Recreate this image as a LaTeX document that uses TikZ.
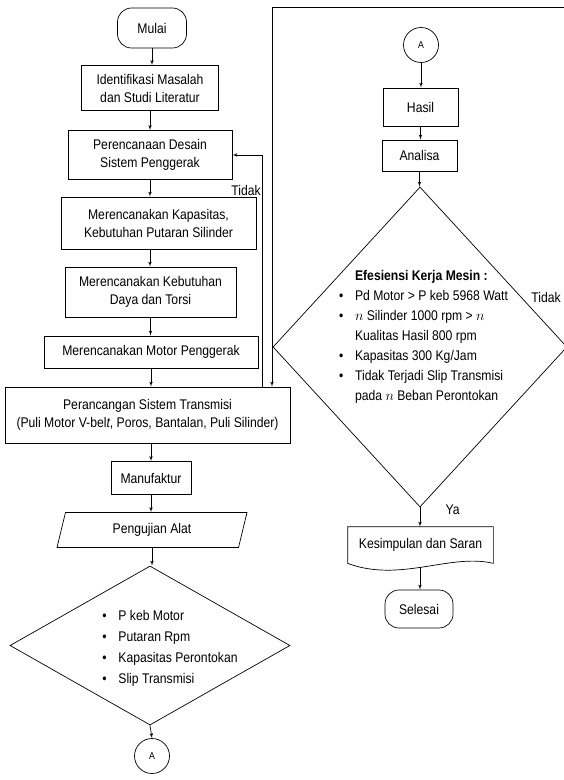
\documentclass[tikz,border=0pt]{standalone}
\usepackage{fontspec}
\setmainfont{Liberation Sans}[FakeStretch=0.87]
\usetikzlibrary{arrows}
\usetikzlibrary{shapes.geometric}
\newcommand{\bul}{\makebox[16pt][l]{\textbullet}}
\newcommand{\ind}{\hspace*{16pt}}

\begin{document}
\begin{tikzpicture}[x=1pt, y=-1pt, >=latex', line width=.7pt,
  font=\fontsize{14}{18}\selectfont,
  box/.style={draw, rectangle, align=center, inner sep=2pt},
  term/.style={draw, rectangle, rounded corners=14pt, align=center},
  conn/.style={draw, circle, minimum size=35pt, inner sep=0pt, font=\fontsize{10}{10}\selectfont},
  io/.style={draw, trapezium, trapezium left angle=57, trapezium right angle=123, trapezium stretches body, minimum width=190pt, minimum height=35pt, inner sep=0pt},
  dec/.style={draw, diamond, inner sep=0pt},
  bulls/.style={align=left, inner sep=0pt}]
\useasboundingbox (0,0) rectangle (563,780);
\node[term, minimum width=69pt, minimum height=40pt] (mulai) at (152,28) {Mulai};
\node[box, minimum width=137pt, minimum height=45pt] (ident) at (150,88) {Identifikasi Masalah\\dan Studi Literatur};
\node[box, minimum width=164pt, minimum height=49pt] (desain) at (150,155) {Perencanaan Desain\\Sistem Penggerak};
\node[box, minimum width=195pt, minimum height=52pt] (kapas) at (158.5,223) {Merencanakan Kapasitas,\\Kebutuhan Putaran Silinder};
\node[box, minimum width=171pt, minimum height=50pt] (daya) at (150.5,292) {Merencanakan Kebutuhan\\Daya dan Torsi};
\node[box, minimum width=214pt, minimum height=32pt] (motor) at (151,352) {Merencanakan Motor Penggerak};
\node[box, minimum width=285pt, minimum height=56pt] (trans) at (147.5,415) {Perancangan Sistem Transmisi\\(Puli Motor V-bel\textit{t}, Poros, Bantalan, Puli Silinder)};
\node[box, minimum width=80pt, minimum height=33pt] (manuf) at (151,478) {Manufaktur};
\node[io] (uji) at (152,530) {Pengujian Alat};
\node[dec, minimum width=280pt, minimum height=159pt] (cek) at (150,645.5) {};
\node[bulls, font=\fontsize{14}{21}\selectfont] (cektxt) at (170,648) {\bul P keb Motor\\\bul Putaran Rpm\\\bul Kapasitas Perontokan\\\bul Slip Transmisi};
\node[conn] (a1) at (152,756) {A};

\node[conn] (a2) at (421,45) {A};
\node[box, minimum width=75pt, minimum height=38pt] (hasil) at (420.5,107) {Hasil};
\node[box, minimum width=75pt, minimum height=31pt] (analisa) at (419.5,155.5) {Analisa};
\node[dec, minimum width=294pt, minimum height=320pt] (efis) at (420,347) {};
\node[bulls, font=\fontsize{14}{20}\selectfont] (efistxt) at (423.5,337) {\ind\textbf{Efesiensi Kerja Mesin :}\\\bul Pd Motor > P keb 5968 Watt\\\bul $n$ Silinder 1000 rpm > $n$\\\ind Kualitas Hasil 800 rpm\\\bul Kapasitas 300 Kg/Jam\\\bul Tidak Terjadi Slip Transmisi\\\ind pada $n$ Beban Perontokan};
\node[minimum width=145pt, minimum height=36pt, inner sep=0pt] (kesim) at (420.5,545) {\raisebox{4pt}{Kesimpulan dan Saran}};
\draw (kesim.north west) -- (kesim.north east) -- (kesim.south east) .. controls (450,553) and (400,583) .. (kesim.south west) -- cycle;
\coordinate (wave) at (420,567);
\node[term, minimum width=68pt, minimum height=38pt] (selesai) at (419,609) {Selesai};

\draw[->] (mulai.south) -- (mulai.south |- ident.north);
\draw[->] (ident.south) -- (ident.south |- desain.north);
\draw[->] (desain.south) -- (desain.south |- kapas.north);
\draw[->] (desain.south |- kapas.south) -- (desain.south |- daya.north);
\draw[->] (daya.south) -- (daya.south |- motor.north);
\draw[->] (motor.south) -- (motor.south |- trans.north);
\draw[->] (motor.south |- trans.south) -- (motor.south |- manuf.north);
\draw[->] (manuf.south) -- (manuf.south |- uji.north);
\draw[->] (uji.south) -- (uji.south |- cek.north);
\draw[->] (cek.south) -- (a1.north);

\draw[->] (a2.south) -- (a2.south |- hasil.north);
\draw[->] (hasil.south) -- (hasil.south |- analisa.north);
\draw[->] (analisa.south) -- (analisa.south |- efis.north);
\draw[->] (efis.south) -- (efis.south |- kesim.north) node[pos=.1, right, xshift=22pt, yshift=0pt] {Ya};
\draw[->] (wave) -- (wave |- selesai.north);

\coordinate (top) at (272,7);
\coordinate (back) at (262,0);
\draw[->] (efis.east) -- (efis.east |- top) -- (top) -- (top |- trans.north);
\node (tidak1) at (546,297) {Tidak};
\draw[->] (back |- trans.north) -- (back |- desain.east) -- (desain.east);
\node[left, inner sep=1pt] (tidak2) at (262,190) {Tidak};
\end{tikzpicture}
\end{document}
